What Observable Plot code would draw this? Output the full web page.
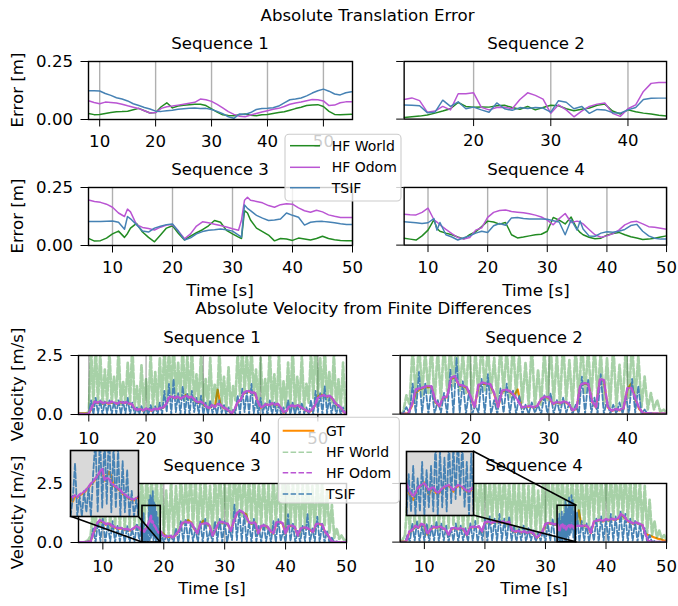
<!DOCTYPE html>
<html><head><meta charset="utf-8">
<script src="https://cdn.jsdelivr.net/npm/d3@7"></script>
<script src="https://cdn.jsdelivr.net/npm/@observablehq/plot@0.6"></script>
<style>
html,body{margin:0;padding:0;background:#fff;overflow:hidden}
#fig{position:relative;width:678px;height:606px;background:#fff;overflow:hidden;font-family:"DejaVu Sans",sans-serif}
</style></head><body><div id="fig"></div>
<script>
// ---------------- Absolute Translation Error data (m) ----------------
const errS1Time = [8,9,10,11,12,13,14,15,16,17,18,19,20,21,22,23,24,25,26,27,28,29,30,31,32,33,34,35,36,37,38,39,40,41,42,43,44,45,46,47,48,49,50,51,52,53,54,55];
const errS1World = [.026,.021,.022,.026,.030,.033,.034,.036,.042,.048,.038,.028,.030,.055,.072,.050,.058,.061,.064,.066,.066,.060,.046,.032,.020,.017,.016,.020,.024,.018,.016,.020,.022,.026,.030,.033,.040,.047,.053,.060,.063,.064,.056,.035,.022,.020,.022,.023];
const errS1Odom = [.081,.073,.068,.075,.073,.071,.066,.059,.053,.047,.038,.028,.030,.048,.055,.058,.062,.066,.070,.074,.088,.085,.078,.065,.050,.034,.022,.014,.012,.019,.026,.032,.038,.044,.048,.056,.066,.071,.075,.081,.086,.085,.080,.060,.062,.072,.076,.077];
const errS1Tsif = [.124,.124,.123,.112,.104,.094,.088,.080,.068,.060,.052,.045,.036,.035,.038,.040,.044,.046,.048,.050,.047,.048,.043,.035,.025,.012,.005,.024,.022,.030,.043,.047,.048,.051,.058,.072,.085,.088,.093,.102,.114,.124,.131,.122,.110,.106,.115,.120];

const errS2Time = [11,12,13,14,15,16,17,18,19,20,21,22,23,24,25,26,27,28,29,30,31,32,33,34,35,36,37,38,39,40,41,42,43,44,45];
const errS2World = [.007,.010,.013,.018,.026,.035,.045,.072,.055,.051,.053,.052,.058,.060,.050,.043,.055,.040,.050,.060,.058,.045,.036,.043,.048,.060,.065,.035,.022,.040,.032,.026,.022,.017,.014];
const errS2Odom = [.085,.092,.080,.030,.035,.055,.040,.110,.110,.114,.051,.040,.050,.051,.045,.085,.114,.103,.087,.025,.062,.040,.010,.035,.055,.065,.070,.025,.012,.045,.062,.120,.155,.159,.159];
const errS2Tsif = [.061,.060,.058,.028,.030,.082,.055,.075,.045,.052,.040,.030,.070,.045,.038,.050,.046,.050,.048,.030,.080,.073,.045,.055,.025,.042,.040,.028,.026,.040,.050,.085,.090,.091,.091];

const errS3Time = [6,7,8,9,10,11,12,12.5,13,14,15,16,17,18,19,20,21,22,23,24,25,26,27,28,29,30,31,31.5,32,32.5,33,34,35,36,37,38,39,40,41,42,43,44,45,46,47,48,49,50];
const errS3World = [.031,.019,.021,.032,.050,.062,.035,.052,.075,.095,.058,.035,.016,.045,.075,.085,.052,.024,.040,.055,.068,.085,.108,.100,.065,.050,.036,.030,.150,.140,.110,.075,.060,.045,.020,.030,.028,.022,.032,.028,.024,.030,.040,.030,.025,.022,.021,.021];
const errS3Odom = [.196,.190,.186,.178,.165,.140,.125,.157,.145,.090,.078,.073,.067,.079,.088,.090,.062,.029,.050,.084,.102,.098,.092,.086,.080,.072,.066,.110,.195,.208,.195,.190,.184,.172,.165,.176,.180,.178,.162,.150,.143,.152,.145,.132,.126,.121,.121,.121];
const errS3Tsif = [.103,.103,.103,.105,.106,.100,.070,.125,.115,.090,.062,.058,.075,.083,.090,.093,.060,.024,.033,.050,.060,.066,.068,.071,.068,.062,.045,.036,.175,.160,.150,.130,.118,.108,.110,.114,.140,.130,.122,.088,.100,.103,.104,.101,.098,.094,.091,.090];

const errS4Time = [6,7,8,9,10,11,11.5,12,13,14,15,16,17,18,19,20,21,22,23,24,25,26,27,28,29,30,31,32,33,34,35,35.5,36,37,38,39,40,41,42,43,44,45,46,47,48,49,50];
const errS4World = [.030,.026,.022,.040,.065,.110,.072,.060,.052,.045,.035,.027,.045,.058,.080,.104,.100,.091,.098,.045,.031,.035,.040,.045,.047,.060,.120,.108,.092,.122,.070,.055,.045,.034,.028,.030,.043,.050,.055,.045,.036,.031,.024,.026,.030,.035,.040];
const errS4Odom = [.134,.132,.131,.142,.160,.110,.100,.088,.068,.050,.033,.026,.033,.065,.075,.120,.142,.150,.152,.146,.143,.140,.136,.130,.122,.108,.088,.115,.137,.098,.104,.100,.092,.068,.045,.034,.040,.050,.065,.088,.100,.103,.092,.080,.077,.073,.069];
const errS4Tsif = [.101,.099,.097,.094,.097,.115,.065,.098,.045,.035,.022,.032,.040,.052,.060,.055,.084,.094,.086,.118,.120,.115,.113,.113,.113,.112,.106,.100,.045,.110,.065,.105,.070,.040,.038,.052,.058,.056,.060,.068,.085,.090,.060,.040,.030,.026,.026];

// ---------------- Absolute Velocity data (m/s) ----------------
// sampling: smooth series every 0.5 s, fast series every 0.4 s, inset detail every 0.1 s
const smoothStep = 0.5, fastStep = 0.4, detailStep = 0.1;

const velS1Start = 8;
const velS1Gt = [0.05,0.05,0.05,0.05,0.05,0.25,0.52,0.48,0.52,0.46, 0.50,0.45,0.52,0.47,0.45,0.52,0.47,0.50,0.45,0.44, 0.22,0.18,0.22,0.16,0.22,0.20,0.15,0.24,0.20,0.26, 0.28,0.42,0.70,0.75,0.68,0.74,0.66,0.72,0.84,0.70, 0.74,0.60,0.48,0.52,0.45,0.33,0.26,0.38,0.30,1.05, 0.40,0.28,0.22,0.13,0.05,0.22,0.52,0.60,0.88,0.95, 0.98,0.90,0.92,0.52,0.28,0.33,0.43,0.38,0.46,0.40, 0.44,0.28,0.08,0.13,0.34,0.36,0.33,0.38,0.30,0.23, 0.15,0.10,0.20,0.38,0.75,0.85,0.80,0.74,0.78,0.68, 0.48,0.38,0.28,0.10,0.04];
const velS1Odom = [0.02,0.02,0.02,0.02,0.03,0.30,0.55,0.50,0.56,0.48, 0.52,0.47,0.55,0.50,0.46,0.54,0.49,0.52,0.47,0.45, 0.25,0.20,0.24,0.18,0.25,0.22,0.17,0.26,0.22,0.28, 0.30,0.45,0.72,0.78,0.70,0.76,0.68,0.74,0.80,0.72, 0.76,0.62,0.50,0.55,0.48,0.35,0.28,0.40,0.32,0.45, 0.42,0.30,0.25,0.15,0.06,0.25,0.55,0.62,0.90,0.98, 1.00,0.92,0.95,0.55,0.30,0.35,0.45,0.40,0.48,0.42, 0.46,0.30,0.10,0.15,0.36,0.38,0.35,0.40,0.32,0.25, 0.17,0.12,0.22,0.40,0.72,0.78,0.82,0.76,0.80,0.70, 0.50,0.40,0.30,0.12,0.05];
const velS1World = [0.05,0.05,0.05,0.05,0.05,0.1, 2.8,0.4,3.0,0.5,2.6,0.4,1.9,0.5,2.7,0.5, 1.6,0.5,2.9,0.4,1.4,0.5,2.2,0.5,3.0,0.3, 1.2,0.2,2.1,0.3,1.5,0.2,2.6,0.3,1.8,0.3, 2.4,0.4,3.0,0.7,2.8,0.8,3.2,0.7,2.2,0.7, 3.0,0.6,2.5,0.6,2.9,0.5,1.7,0.5,2.6,0.4, 1.5,0.3,2.4,0.4,1.3,0.4,2.8,0.4,1.6,0.2, 2.0,0.2,1.2,0.6,2.7,0.8,3.0,0.9,2.6,1.0, 2.9,0.8,1.9,0.3,2.4,0.4,1.5,0.5,2.8,0.4, 1.7,0.3,2.6,0.2,1.4,0.3,2.2,0.3,3.0,0.2, 1.6,0.4,2.5,0.3,1.3,0.5,2.7,0.7,3.1,0.8, 2.4,0.7,2.9,0.6,1.8,0.5,2.6,0.3,1.5,0.2, 2.2,0.2,0.3];
const velS1Tsif = [0.02,0.02,0.02,0.02,0.02,0.05, 0.6,0.0,0.7,0.05,0.6,0.0,0.55,0.05,0.6,0.0, 0.55,0.05,0.6,0.0,0.55,0.05,0.7,0.0,0.5,0.0, 0.3,0.0,0.35,0.05,0.3,0.0,0.4,0.05,0.35,0.0, 0.5,0.0,1.0,0.1,1.3,0.0,1.5,0.1,0.9,0.0, 1.2,0.05,0.9,0.0,1.0,0.1,0.7,0.0,0.8,0.0, 0.5,0.0,0.6,0.05,0.4,0.0,0.6,0.05,0.4,0.0, 0.3,0.0,0.2,0.05,0.8,0.0,1.1,0.1,1.0,0.0, 1.3,0.05,0.6,0.0,0.7,0.05,0.5,0.0,0.6,0.0, 0.5,0.0,0.4,0.0,0.3,0.05,0.6,0.0,0.5,0.0, 0.4,0.0,0.5,0.05,0.3,0.0,0.6,0.0,1.0,0.1, 0.9,0.0,1.2,0.05,0.7,0.0,0.6,0.0,0.4,0.0, 0.3,0.0,0.1];

const velS2Start = 11;
const velS2Gt = [0.02,0.02,0.03,0.35,0.90,1.05,1.12,1.16,1.15,0.50, 0.32,0.68,0.72,1.50,1.58,1.22,1.18,1.12,0.70,0.28, 1.20,1.30,1.28,1.25,0.86,0.28,0.96,1.02,0.95,0.78, 1.05,0.28,0.30,0.33,0.28,0.33,0.62,0.72,0.70,0.42, 0.50,0.46,0.52,0.42,0.15,0.22,1.20,1.30,1.28,0.52, 0.28,1.46,1.42,0.28,0.13,0.20,0.16,0.22,1.05,1.30, 0.65,0.22,0.04,0.03,0.03,0.02,0.02,0.02,0.02];
const velS2Odom = [0.01,0.01,0.02,0.40,1.05,1.10,1.15,1.20,1.18,0.55, 0.35,0.72,0.75,1.55,1.62,1.25,1.22,1.15,0.75,0.30, 1.25,1.35,1.30,1.28,0.90,0.30,1.00,1.05,0.98,0.82, 0.60,0.30,0.32,0.35,0.30,0.35,0.65,0.75,0.72,0.45, 0.52,0.48,0.55,0.45,0.17,0.25,1.25,1.32,1.30,0.55, 0.30,1.50,1.45,0.30,0.15,0.22,0.18,0.25,1.10,1.12, 0.70,0.25,0.05,0.04,0.03,0.03,0.02,0.03,0.02];
const velS2World = [0.0,0.1,0.8,0.4,2.9,0.6,3.2,0.8,2.7,0.9, 3.0,0.5,2.8,0.6,3.1,1.0,2.9,1.2,3.3,1.0, 2.6,0.9,3.0,0.5,2.7,0.8,3.2,1.0,2.9,0.9, 2.4,0.6,3.0,0.9,2.8,0.7,3.1,0.8,2.6,0.5, 2.2,0.4,3.0,0.3,1.9,0.4,2.8,0.6,3.0,0.5, 2.5,0.4,3.1,0.6,2.3,0.3,2.9,0.5,3.2,0.9, 2.8,0.6,3.0,0.7,2.7,0.4,2.4,0.3,3.0,0.3, 2.1,0.3,2.9,0.7,3.1,0.6,2.5,0.3,1.6,0.2, 0.9,0.2,0.6,0.1,0.2,0.05];
const velS2Tsif = [0.0,0.05,0.3,0.0,1.3,0.0,1.8,0.05,1.3,0.0, 1.2,0.0,0.6,0.05,0.9,0.0,1.9,0.0,2.4,0.05, 1.4,0.0,1.0,0.0,0.4,0.05,1.5,0.0,1.7,0.0, 0.6,0.0,1.1,0.05,1.3,0.0,1.0,0.0,0.8,0.0, 0.4,0.0,0.5,0.05,0.4,0.0,0.8,0.0,0.9,0.0, 0.6,0.0,0.7,0.05,0.5,0.0,0.4,0.0,1.6,0.0, 1.5,0.05,0.7,0.0,1.7,0.0,0.6,0.0,0.4,0.0, 0.5,0.0,0.8,0.0,1.5,0.05,1.2,0.0,0.2,0.0, 0.05,0.0,0.03,0.0,0.02,0.0];

const velS3Start = 6;
const velS3Gt = [0.02,0.02,0.02,0.03,0.06,0.40,0.76,0.92,0.85,0.75, 0.80,0.68,0.63,0.57,0.60,0.54,0.55,0.50,0.58,0.68, 0.60,0.45,0.58,0.82,1.02,0.90,0.72,0.50,0.36,0.22, 0.25,0.20,0.33,0.48,0.80,0.86,0.95,0.84,0.58,0.38, 0.76,0.92,0.80,0.72,0.28,0.52,0.82,0.86,0.80,0.78, 0.48,0.88,1.22,1.32,1.26,1.20,0.82,0.80,0.84,0.38, 0.68,0.70,0.66,0.48,0.38,0.82,0.86,0.80,0.38,0.68, 0.70,0.64,0.28,0.58,0.62,0.60,0.53,0.43,0.76,0.78, 0.74,0.43,0.28,0.06,0.02,0.02,0.02,0.02,0.02];
const velS3Odom = [0.01,0.01,0.02,0.02,0.05,0.45,0.80,0.95,0.88,0.78, 0.82,0.70,0.66,0.60,0.62,0.56,0.58,0.52,0.60,0.70, 0.62,0.48,0.60,0.85,1.05,0.78,0.55,0.38,0.28,0.25, 0.28,0.22,0.35,0.50,0.82,0.88,0.84,0.86,0.60,0.40, 0.78,0.80,0.82,0.75,0.30,0.55,0.84,0.88,0.82,0.80, 0.50,0.90,1.25,1.35,1.28,1.10,0.85,0.82,0.86,0.40, 0.70,0.72,0.68,0.50,0.40,0.85,0.88,0.82,0.40,0.70, 0.72,0.66,0.30,0.60,0.64,0.62,0.55,0.45,0.78,0.80, 0.76,0.45,0.30,0.08,0.02,0.01,0.01,0.01,0.01];
const velS3World = [0.0,0.0,0.0,0.05,0.1,0.3,1.5,0.5,2.8,0.7, 3.0,0.8,2.7,0.6,3.1,0.7,2.5,0.6,2.9,0.5, 3.2,0.6,2.6,0.7,3.0,0.5,2.8,0.6,3.1,0.9, 2.9,0.7,3.0,0.4,2.6,0.3,2.2,0.3,2.7,0.3, 2.4,0.5,3.0,0.8,2.7,0.9,3.1,0.6,2.9,0.5, 2.6,0.8,3.0,0.7,2.4,0.4,2.9,0.8,3.2,0.8, 2.7,0.7,3.0,0.6,3.3,1.2,2.9,1.1,3.0,0.9, 2.8,0.8,3.1,0.5,2.6,0.7,3.0,0.6,2.5,0.5, 3.0,0.8,2.7,0.9,2.9,0.5,3.1,0.7,2.6,0.6, 2.8,0.3,2.5,0.6,3.0,0.6,2.4,0.5,2.9,0.8, 2.6,0.7,2.2,0.4,1.6,0.2,0.6,0.15,0.3,0.1, 0.1];
const velS3Tsif = [0.0,0.0,0.0,0.02,0.05,0.0,0.6,0.0,0.9,0.05, 1.0,0.0,0.8,0.05,0.9,0.0,0.7,0.05,0.6,0.0, 0.7,0.0,0.6,0.05,0.8,0.0,1.0,0.0,1.5,0.1, 1.6,0.1,1.2,0.0,0.4,0.0,0.3,0.05,0.3,0.0, 0.6,0.0,0.9,0.05,1.0,0.0,0.8,0.05,0.6,0.0, 0.9,0.0,1.0,0.05,0.5,0.0,0.9,0.05,1.0,0.0, 0.9,0.0,0.6,0.1,1.6,0.1,1.4,0.05,1.2,0.0, 0.9,0.0,1.0,0.05,0.7,0.0,0.8,0.05,0.6,0.0, 0.9,0.0,1.0,0.05,0.5,0.0,1.2,0.05,0.8,0.0, 0.5,0.0,0.7,0.05,1.2,0.0,0.6,0.05,1.1,0.0, 0.8,0.0,0.5,0.0,0.2,0.0,0.05,0.0,0.02,0.0, 0.0];
const velS3Window = [16.5, 19.5], velS3InsetTop = 1.55;
const velS3DetailGt = [0.45,0.35,0.48,0.44,0.50,0.53,0.56,0.62,0.68,0.76,0.80,0.88,0.94,1.04,1.10,0.84,0.95,1.05,0.95,0.72,0.68,0.64,0.60,0.53,0.50,0.45,0.42,0.39,0.38,0.42,0.45];
const velS3DetailOdom = [0.47,0.45,0.50,0.46,0.52,0.55,0.58,0.64,0.70,0.78,0.82,0.90,0.96,1.06,1.13,0.86,0.92,0.88,0.78,0.74,0.70,0.66,0.62,0.55,0.52,0.47,0.44,0.41,0.40,0.44,0.47];
const velS3DetailTsif = [0.0,0.4,1.25,0.0,0.5,0.0,0.6,0.1,0.7,0.0,1.0,1.8,0.1,2.0,0.2,1.9,0.3,2.2,0.1,1.7,0.2,1.6,0.0,1.3,0.1,1.1,0.0,0.6,0.0,0.4,0.0];

const velS4Start = 6;
const velS4Gt = [0.02,0.02,0.03,0.40,0.50,0.68,0.60,0.75,0.70,0.32, 0.52,0.64,0.60,0.66,0.58,0.53,0.25,0.55,0.60,0.54, 0.58,0.52,0.28,0.60,0.64,0.62,0.66,0.42,0.82,0.86, 0.80,0.84,0.88,0.82,0.86,0.80,0.84,0.48,0.42,0.46, 0.40,0.44,0.38,0.42,0.36,0.15,0.28,0.42,0.76,0.80, 0.78,0.74,0.62,0.70,0.58,0.78,0.68,0.64,0.70,1.35, 0.66,0.70,0.64,0.38,0.86,0.90,0.94,0.88,0.96,0.92, 0.98,0.94,1.00,1.16,1.06,0.90,0.84,0.78,0.82,0.76, 0.72,0.35,0.30,0.25,0.20,0.15,0.12,0.08,0.05];
const velS4Odom = [0.01,0.01,0.02,0.45,0.52,0.70,0.62,0.78,0.72,0.35, 0.55,0.66,0.62,0.68,0.60,0.55,0.32,0.58,0.62,0.56, 0.60,0.55,0.30,0.62,0.66,0.64,0.68,0.45,0.84,0.88, 0.82,0.86,0.90,0.84,0.88,0.82,0.86,0.50,0.45,0.48, 0.42,0.46,0.40,0.44,0.38,0.20,0.30,0.45,0.78,0.82, 0.80,0.76,0.65,0.72,0.60,0.80,0.70,0.66,0.72,0.70, 0.68,0.72,0.66,0.40,0.88,0.92,0.96,0.90,0.98,0.94, 1.00,0.96,1.02,1.20,1.10,0.92,0.86,0.80,0.84,0.78, 0.75,0.35,0.05,0.02,0.01,0.01,0.01,0.01,0.01];
const velS4World = [0.0,0.1,0.3,1.8,0.5,2.9,0.6,3.0,0.7,2.7, 0.5,3.1,0.6,2.8,0.7,3.0,0.5,2.6,0.6,3.2, 0.6,2.9,0.7,3.0,0.6,2.7,0.5,3.1,0.6,2.8, 0.7,3.0,0.8,2.9,0.9,3.2,0.8,2.7,0.9,3.0, 0.8,2.8,0.9,3.1,0.7,2.6,0.5,3.0,0.5,2.5, 0.5,2.9,0.4,2.4,0.5,3.0,0.3,2.2,0.4,2.8, 0.6,3.1,0.8,2.9,0.7,3.2,0.8,3.0,0.9,2.7, 1.0,3.0,0.8,2.8,0.7,3.1,0.6,2.9,0.7,3.0, 0.9,3.2,0.9,2.8,1.0,3.0,0.9,2.9,1.0,3.1, 1.1,2.9,1.0,3.2,0.9,2.8,0.8,3.0,0.8,2.6, 0.7,2.4,0.4,1.8,0.3,0.9,0.2,0.5,0.15,0.3, 0.1];
const velS4Tsif = [0.0,0.0,0.0,0.3,0.0,0.8,0.05,0.9,0.0,0.7, 0.05,0.8,0.0,0.7,0.05,0.9,0.0,0.8,0.05,0.7, 0.0,0.6,0.05,0.8,0.0,0.7,0.05,0.6,0.0,0.8, 0.05,0.9,0.0,0.6,0.05,1.0,0.0,1.1,0.05,1.0, 0.0,1.2,0.05,1.0,0.0,1.1,0.05,0.7,0.0,0.6, 0.05,0.7,0.0,0.6,0.05,0.5,0.0,0.4,0.05,0.5, 0.0,0.8,0.05,1.0,0.0,1.4,0.1,1.6,0.1,1.5, 0.2,1.6,0.1,1.3,0.0,0.9,0.05,0.8,0.0,0.7, 0.05,1.0,0.0,1.1,0.05,1.0,0.0,1.2,0.05,1.1, 0.0,1.3,0.05,1.2,0.0,1.0,0.05,0.9,0.0,0.8, 0.05,0.6,0.0,0.3,0.0,0.05,0.0,0.02,0.0,0.0, 0.0];
const velS4Window = [32, 35], velS4InsetTop = 1.55;
const velS4DetailGt = [0.75,0.55,0.45,0.38,0.50,0.64,0.70,0.74,0.80,0.66,0.50,0.62,0.68,0.56,0.50,0.58,0.64,0.68,0.70,0.72,0.66,0.58,0.66,0.72,0.70,0.68,0.62,0.58,0.55,0.62,0.68];
const velS4DetailOdom = [0.78,0.62,0.54,0.46,0.55,0.66,0.72,0.76,0.78,0.70,0.62,0.66,0.70,0.60,0.54,0.60,0.66,0.70,0.72,0.74,0.68,0.62,0.68,0.74,0.72,0.70,0.64,0.60,0.58,0.64,0.70];
const velS4DetailTsif = [0.0,1.0,0.1,1.2,0.0,0.9,0.1,1.3,0.0,1.1,0.2,1.2,0.1,1.8,0.0,1.6,0.2,1.4,0.1,1.9,0.3,1.7,0.4,2.0,0.5,1.8,0.2,1.3,0.0,1.5,0.1];

// ---------------- labels ----------------
const errTitle = "Absolute Translation Error";
const velTitle = "Absolute Velocity from Finite Differences";
const seqTitles = ["Sequence 1", "Sequence 2", "Sequence 3", "Sequence 4"];
const errLegend = ["HF World", "HF Odom", "TSIF"];
const velLegend = ["GT", "HF World", "HF Odom", "TSIF"];
const ticksA = [10, 20, 30, 40, 50];
const ticksB = [20, 30, 40];

// ---------------- helpers ----------------
const C = {world: "forestgreen", odom: "mediumorchid", tsif: "steelblue", gt: "darkorange"};
const DASH = "5.5,2.4";
const pairs = (times, vals) => vals.map((v, i) => ({t: times[i], v}));
const sampled = (start, step, vals) => vals.map((v, i) => ({t: Math.round((start + i * step) * 100) / 100, v}));
const merge = (coarse, detail, w) => coarse.filter(d => d.t < w[0] || d.t > w[1]).concat(detail).sort((a, b) => a.t - b.t);

const fig = document.getElementById("fig");
function place(node, left, top, z) {
  const d = document.createElement("div");
  d.style.cssText = `position:absolute;left:${left}px;top:${top}px;z-index:${z};line-height:0`;
  d.appendChild(node); fig.appendChild(d); return d;
}
const M = {l: 60, r: 12, t: 6, b: 32};
function panel(frame, xDomain, xTicks, yDomain, yTicks, yFmt, showY, marks, xPad) {
  const [x0, x1, y0, y1] = frame;
  const chart = Plot.plot({
    width: x1 - x0 + M.l + M.r, height: y1 - y0 + M.t + M.b,
    marginLeft: M.l, marginRight: M.r, marginTop: M.t, marginBottom: M.b,
    style: {fontFamily: "DejaVu Sans", fontSize: "16.6px", background: "transparent", overflow: "visible", color: "black"},
    x: {domain: xDomain, ticks: xTicks, tickSize: 7.5, tickPadding: xPad, tickFormat: d3.format("d"), label: null},
    y: {domain: yDomain, ticks: yTicks, tickSize: 7.5, tickPadding: 8, tickFormat: showY ? d3.format(yFmt) : () => "", label: null},
    marks: [
      Plot.ruleX(xTicks, {stroke: "#b0b0b0", strokeWidth: 1.4}),
      ...marks,
      Plot.frame({stroke: "black", strokeWidth: 1.4})
    ]
  });
  place(chart, x0 - M.l, y0 - M.t, 1);
  return {chart, ox: x0 - M.l, oy: y0 - M.t};
}
function errMarks(times, world, odom, tsif) {
  return [
    Plot.line(pairs(times, world), {x: "t", y: "v", stroke: C.world, strokeWidth: 1.5, clip: true}),
    Plot.line(pairs(times, odom), {x: "t", y: "v", stroke: C.odom, strokeWidth: 1.5, clip: true}),
    Plot.line(pairs(times, tsif), {x: "t", y: "v", stroke: C.tsif, strokeWidth: 1.5, clip: true})
  ];
}
function velMarks(s, extra = []) {
  return [
    Plot.line(s.gt, {x: "t", y: "v", stroke: C.gt, strokeWidth: 2.2, clip: true}),
    Plot.line(s.world, {x: "t", y: "v", stroke: C.world, strokeOpacity: 0.4, strokeWidth: 2.7, strokeDasharray: DASH, clip: true}),
    Plot.line(s.tsif, {x: "t", y: "v", stroke: C.tsif, strokeWidth: 1.8, strokeDasharray: DASH, clip: true}),
    Plot.line(s.odom, {x: "t", y: "v", stroke: C.odom, strokeWidth: 2.4, strokeDasharray: DASH, clip: true}),
    ...extra
  ];
}
function velSeries(start, gt, odom, world, tsif, w, dStart, dGt, dOdom, dTsif) {
  let s = {gt: sampled(start, smoothStep, gt), odom: sampled(start, smoothStep, odom),
           world: sampled(start, fastStep, world), tsif: sampled(start, fastStep, tsif)};
  if (w) {
    s.dgt = sampled(dStart, detailStep, dGt); s.dodom = sampled(dStart, detailStep, dOdom); s.dtsif = sampled(dStart, detailStep, dTsif);
    s.gt = merge(s.gt, s.dgt, w); s.odom = merge(s.odom, s.dodom, w); s.tsif = merge(s.tsif, s.dtsif, w);
  }
  return s;
}
const zoomRect = (w, top) => Plot.rect([{x1: w[0], x2: w[1], y1: 0, y2: top}], {x1: "x1", x2: "x2", y1: "y1", y2: "y2", fill: "none", stroke: "black", strokeWidth: 1.6});

// ---------------- error panels ----------------
const eDom = [0, 0.25], eTicks = [0, 0.25];
panel([88, 352, 61, 119], [8, 55.2], ticksA, eDom, eTicks, ".2f", true, errMarks(errS1Time, errS1World, errS1Odom, errS1Tsif), 8);
panel([404, 668, 61, 119], [11, 45], ticksB, eDom, eTicks, ".2f", false, errMarks(errS2Time, errS2World, errS2Odom, errS2Tsif), 8);
panel([88, 352, 187, 245], [6, 50], ticksA, eDom, eTicks, ".2f", true, errMarks(errS3Time, errS3World, errS3Odom, errS3Tsif), 8.5);
panel([404, 668, 187, 245], [6, 50], ticksA, eDom, eTicks, ".2f", false, errMarks(errS4Time, errS4World, errS4Odom, errS4Tsif), 8.5);

// ---------------- velocity panels ----------------
const vDom = [0, 2.5], vTicks = [0, 2.5];
const s1 = velSeries(velS1Start, velS1Gt, velS1Odom, velS1World, velS1Tsif);
const s2 = velSeries(velS2Start, velS2Gt, velS2Odom, velS2World, velS2Tsif);
const s3 = velSeries(velS3Start, velS3Gt, velS3Odom, velS3World, velS3Tsif, velS3Window, velS3Window[0], velS3DetailGt, velS3DetailOdom, velS3DetailTsif);
const s4 = velSeries(velS4Start, velS4Gt, velS4Odom, velS4World, velS4Tsif, velS4Window, velS4Window[0], velS4DetailGt, velS4DetailOdom, velS4DetailTsif);
panel([78, 346, 355, 414], [8.2, 55], ticksA, vDom, vTicks, ".1f", true, velMarks(s1), 10.5);
panel([400, 668, 355, 414], [11, 45], ticksB, vDom, vTicks, ".1f", false, velMarks(s2), 10.5);
const p3 = panel([78, 346, 483, 542], [6, 50], ticksA, vDom, vTicks, ".1f", true, velMarks(s3, [zoomRect(velS3Window, velS3InsetTop)]), 10.5);
const p4 = panel([400, 668, 483, 542], [6, 50], ticksA, vDom, vTicks, ".1f", false, velMarks(s4, [zoomRect(velS4Window, velS4InsetTop)]), 10.5);

// ---------------- insets ----------------
function inset(box, s, w, top) {
  const [bx0, bx1, by0, by1] = box;
  const chart = Plot.plot({
    width: bx1 - bx0, height: by1 - by0, margin: 0,
    x: {domain: w, axis: null}, y: {domain: [0, top], axis: null},
    style: {background: "transparent", overflow: "visible"},
    marks: [
      Plot.frame({fill: "#d9d9d9"}),
      Plot.line(s.dgt, {x: "t", y: "v", stroke: C.gt, strokeWidth: 2.2, clip: true}),
      Plot.line(s.dtsif, {x: "t", y: "v", stroke: C.tsif, strokeWidth: 1.8, strokeDasharray: DASH, clip: true}),
      Plot.line(s.dodom, {x: "t", y: "v", stroke: C.odom, strokeWidth: 2.2, strokeDasharray: DASH, clip: true}),
      Plot.frame({stroke: "black", strokeWidth: 1.6})
    ]
  });
  place(chart, bx0, by0, 3);
}
const box3 = [70, 138, 450, 516], box4 = [406, 473, 451, 515];
inset(box3, s3, velS3Window, velS3InsetTop);
inset(box4, s4, velS4Window, velS4InsetTop);

// ---------------- connector lines ----------------
const conn = d3.create("svg").attr("width", 678).attr("height", 606).style("overflow", "visible");
function px(p, t, v) { return [p.ox + p.chart.scale("x").apply(t), p.oy + p.chart.scale("y").apply(v)]; }
const c3a = px(p3, velS3Window[0], 0), c3b = px(p3, velS3Window[1], 0);
const c4a = px(p4, velS4Window[1], velS4InsetTop), c4b = px(p4, velS4Window[1], 0);
[[[box3[0], box3[3]], c3a], [[box3[1], box3[3]], c3b], [[box4[1], box4[2]], c4a], [[box4[1], box4[3]], c4b]].forEach(([a, b]) => {
  conn.append("line").attr("x1", a[0]).attr("y1", a[1]).attr("x2", b[0]).attr("y2", b[1]).attr("stroke", "black").attr("stroke-width", 1.6);
});
place(conn.node(), 0, 0, 2);

// ---------------- texts & legends ----------------
const ov = d3.create("svg").attr("width", 678).attr("height", 606)
  .style("font-family", "DejaVu Sans").style("pointer-events", "none");
function txt(s, x, y, size = 16.6, anchor = "middle", rot = 0) {
  const t = ov.append("text").attr("x", x).attr("y", y).attr("text-anchor", anchor).attr("font-size", size).attr("fill", "black").text(s);
  if (rot) t.attr("transform", `rotate(${rot},${x},${y})`);
}
txt(errTitle, 367.5, 21);
txt(seqTitles[0], 220, 48.5); txt(seqTitles[1], 536, 48.5);
txt(seqTitles[2], 220, 175); txt(seqTitles[3], 536, 175);
txt("Time [s]", 220, 295.5); txt("Time [s]", 536, 295.5);
txt("Error [m]", 22.5, 90, 16.6, "middle", -90); txt("Error [m]", 22.5, 216, 16.6, "middle", -90);
txt(velTitle, 363.5, 314);
txt(seqTitles[0], 212, 343); txt(seqTitles[1], 534, 343);
txt(seqTitles[2], 212, 471); txt(seqTitles[3], 534, 471);
txt("Time [s]", 212, 594); txt("Time [s]", 534, 594);
txt("Velocity [m/s]", 22.5, 384.5, 16.6, "middle", -90); txt("Velocity [m/s]", 22.5, 512.5, 16.6, "middle", -90);

function legend(x, y, w, h, rows, lx0, lx1, tx, items) {
  ov.append("rect").attr("x", x).attr("y", y).attr("width", w).attr("height", h).attr("rx", 4)
    .attr("fill", "white").attr("fill-opacity", 0.8).attr("stroke", "#cccccc").attr("stroke-width", 1.1);
  items.forEach((it, i) => {
    ov.append("line").attr("x1", lx0).attr("x2", lx1).attr("y1", rows[i]).attr("y2", rows[i])
      .attr("stroke", it.color).attr("stroke-width", it.width).attr("stroke-opacity", it.opacity || 1)
      .attr("stroke-dasharray", it.dash || null);
    ov.append("text").attr("x", tx).attr("y", rows[i] + 5.1).attr("font-size", 14).attr("fill", "black").text(it.label);
  });
}
legend(285, 134.3, 116, 66.7, [145.7, 167.3, 187.7], 290, 320, 331.7, [
  {label: errLegend[0], color: C.world, width: 1.5},
  {label: errLegend[1], color: C.odom, width: 1.5},
  {label: errLegend[2], color: C.tsif, width: 1.5}
]);
legend(278.3, 417.3, 121, 85.7, [430.7, 452.3, 472.7, 494], 282.7, 314.3, 326, [
  {label: velLegend[0], color: C.gt, width: 2},
  {label: velLegend[1], color: C.world, width: 1.6, opacity: 0.4, dash: DASH},
  {label: velLegend[2], color: C.odom, width: 1.6, dash: DASH},
  {label: velLegend[3], color: C.tsif, width: 1.6, dash: DASH}
]);
place(ov.node(), 0, 0, 4);
</script></body></html>
